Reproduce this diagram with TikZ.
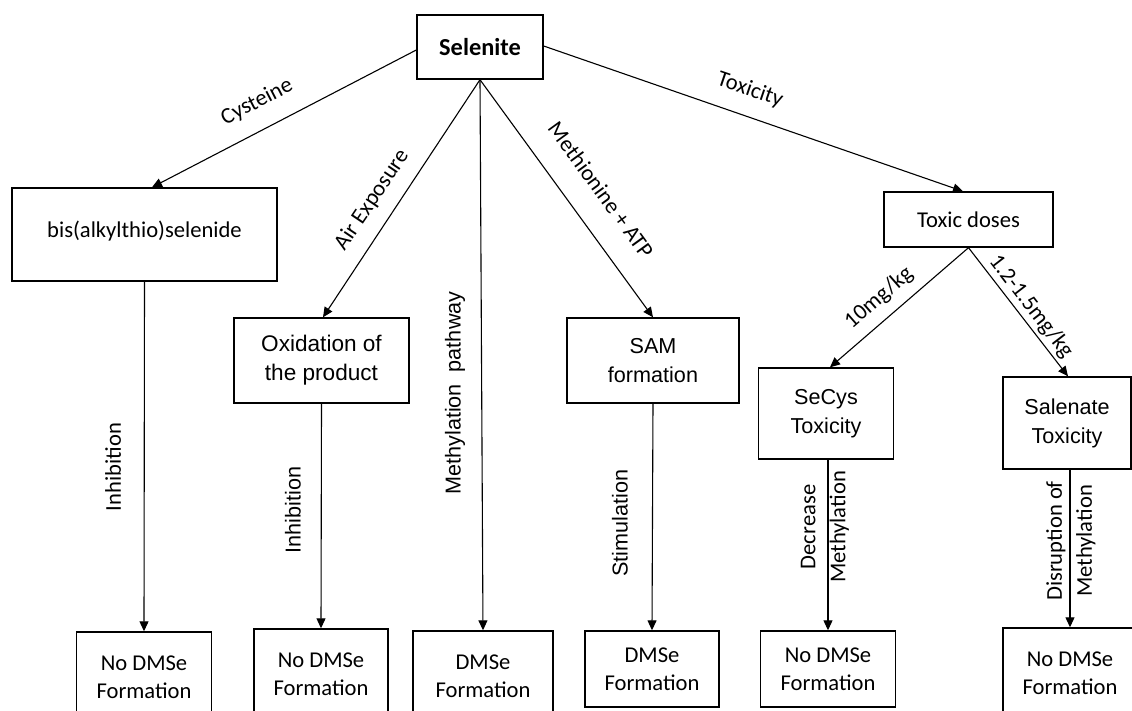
\documentclass[tikz,border=0pt]{standalone}
\usepackage{fontspec}
\setmainfont{Carlito}
\newfontfamily\apt{Liberation Sans}
\usetikzlibrary{arrows.meta,calc}
\begin{document}
\begin{tikzpicture}[x=0.5pt,y=-0.5pt,
  box/.style={draw, line width=0.7pt, inner sep=0pt, align=center, font=\fontsize{11.3}{14}\selectfont},
  aptbox/.style={box, font=\apt\fontsize{10.8}{14.5}\selectfont},
  conn/.style={line width=0.55pt, -{Triangle[length=5pt,width=4.5pt]}},
  lbl/.style={inner sep=0pt, font=\fontsize{11.3}{14}\selectfont},
  aptlbl/.style={inner sep=0pt, font=\apt\fontsize{10.8}{13}\selectfont},
  vlbl/.style={inner sep=0pt, align=center, rotate=90, font=\fontsize{11.3}{15}\selectfont}]
\useasboundingbox[fill=white] (0,0) rectangle (1132,711);
\begin{scope}
\clip (0,0) rectangle (1132,711);
% top
\node[box, minimum width=63pt, minimum height=32pt, font=\bfseries\fontsize{12.2}{14}\selectfont] (sel) at (480,47) {Selenite};
% middle row
\node[box, minimum width=132.5pt, minimum height=46.5pt] (bis) at (144.5,234.5) {\raisebox{5pt}{bis(alkylthio)selenide}};
\node[aptbox, minimum width=87.5pt, minimum height=42.5pt, font=\apt\fontsize{11.3}{14.5}\selectfont] (ox) at (321.5,360.5) {Oxidation of\\the product};
\node[aptbox, minimum width=86pt, minimum height=42.5pt] (sam) at (653,360.5) {SAM\\formation};
\node[box, minimum width=84.5pt, minimum height=27.5pt] (tox) at (968.5,219.5) {Toxic doses};
\node[aptbox, minimum width=67.5pt, minimum height=45.5pt] (secys) at (826,413.5) {SeCys\\Toxicity};
\node[aptbox, minimum width=64pt, minimum height=46pt] (sal) at (1067,423) {Salenate\\Toxicity};
% bottom row
\node[box, minimum width=67.5pt, minimum height=45pt] (b1) at (144,677) {No DMSe\\Formation};
\node[box, minimum width=67pt, minimum height=45pt] (b2) at (321,674) {No DMSe\\Formation};
\node[box, minimum width=70pt, minimum height=45pt] (b3) at (483,676) {DMSe\\Formation};
\node[box, minimum width=67pt, minimum height=38pt] (b4) at (652,669) {DMSe\\Formation};
\node[box, minimum width=67.5pt, minimum height=38pt] (b5) at (828,669) {No DMSe\\Formation};
\node[box, minimum width=67pt, minimum height=45pt] (b6) at (1070,673) {No DMSe\\Formation};
\end{scope}
% connectors
\draw[conn] ($(sel.west)+(0,3)$) -- ($(bis.north)+(7.5,0)$);
\draw[conn] (sel.south) -- ($(ox.north)+(1.5,0)$);
\draw[conn] (sel.south) -- (b3.north);
\draw[conn] (sel.south) -- (sam.north);
\draw[conn] ($(sel.east)+(0,-1)$) -- ($(tox.north)+(-5.5,0)$);
\draw[conn] (tox.south) -- ($(secys.north)+(4,0)$);
\draw[conn] (tox.south) -- ($(sal.north)+(1,0)$);
\draw[conn] (bis.south) -- (b1.north);
\draw[conn] (ox.south) -- (b2.north);
\draw[conn] (sam.south) -- (b4.north);
\draw[conn] ($(secys.south)+(2,0)$) -- (b5.north);
\draw[conn] ($(sal.south)+(3,0)$) -- (b6.north);
% labels
\node[lbl, rotate=27.4] (lcys) at (257,102) {Cysteine};
\node[lbl, rotate=56] (lair) at (372,200) {Air Exposure};
\node[aptlbl, rotate=90] (lmeth) at (455,393) {Methylation\ \ pathway};
\node[lbl, rotate=-54] (lmet) at (601,190) {Methionine + ATP};
\node[lbl, rotate=-18.8] (ltox) at (750,90) {Toxicity};
\node[lbl, rotate=41] (l10) at (879,298) {10mg/kg};
\node[lbl, rotate=-52.4] (l12) at (1031,307) {1.2-1.5mg/kg};
\node[vlbl] (linh1) at (113,467) {Inhibition};
\node[aptlbl, rotate=90] (linh2) at (293,510) {Inhibition};
\node[aptlbl, rotate=90] (lstim) at (620,523) {Stimulation};
\node[vlbl] (ldec) at (825,527) {Decrease\\Methylation};
\node[vlbl] (ldis) at (1071,541) {Disruption of\\Methylation};
\end{tikzpicture}
\end{document}
